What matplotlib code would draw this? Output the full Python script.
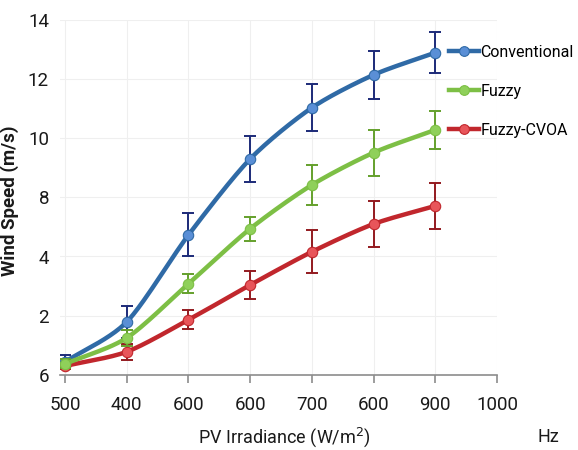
import numpy as np
import matplotlib
matplotlib.use('Agg')
import matplotlib.pyplot as plt

plt.rcParams['font.family'] = ['Roboto', 'DejaVu Sans']

# tick labels as printed on the chart (positions are evenly spaced)
x_labels = ['500', '400', '600', '600', '700', '600', '900', '1000']
y_labels = ['6', '2', '4', '8', '10', '12', '14']
y_ticks = [2, 4, 6, 8, 10, 12, 14]

x_pos = [0, 1, 2, 3, 4, 5, 6]

conv = [2.44, 3.79, 6.73, 9.30, 11.03, 12.14, 12.89]
conv_err = [0.22, 0.55, 0.73, 0.78, 0.79, 0.81, 0.70]
fuzzy = [2.37, 3.25, 5.08, 6.94, 8.42, 9.51, 10.28]
fuzzy_err = [0.15, 0.26, 0.32, 0.41, 0.68, 0.78, 0.64]
cvoa = [2.30, 2.78, 3.86, 5.04, 6.16, 7.10, 7.71]
cvoa_err = [0.10, 0.27, 0.32, 0.47, 0.73, 0.78, 0.78]


def smooth(x, y, n=25, tension=0.4):
    # cardinal spline through the points
    x = np.asarray(x, float)
    y = np.asarray(y, float)
    px = np.concatenate([[2*x[0]-x[1]], x, [2*x[-1]-x[-2]]])
    py = np.concatenate([[2*y[0]-y[1]], y, [2*y[-1]-y[-2]]])
    xs, ys = [], []
    t = np.linspace(0, 1, n)
    h00 = 2*t**3 - 3*t**2 + 1
    h10 = t**3 - 2*t**2 + t
    h01 = -2*t**3 + 3*t**2
    h11 = t**3 - t**2
    for i in range(1, len(px)-2):
        for p, out in ((px, xs), (py, ys)):
            m1 = tension*(p[i+1]-p[i-1])
            m2 = tension*(p[i+2]-p[i])
            out.extend(h00*p[i] + h10*m1 + h01*p[i+1] + h11*m2)
    return np.array(xs), np.array(ys)


fig = plt.figure(figsize=(5.78, 4.5), dpi=100)
ax = fig.add_axes([0.104, 0.167, 0.756, 0.789])

series = [
    ('Conventional', conv, conv_err, '#2f6aa6', '#5a8fd6', '#1c2a78', 3),
    ('Fuzzy', fuzzy, fuzzy_err, '#7dbf45', '#8fd05a', '#64a02c', 4),
    ('Fuzzy-CVOA', cvoa, cvoa_err, '#c1272d', '#e8555a', '#931a1f', 2),
]

handles = []
for name, vals, err, lc, mc, ec, z in series:
    sx, sy = smooth(x_pos, vals)
    ax.plot(sx, sy, color=lc, lw=3.2, solid_capstyle='round', zorder=z)
    ax.errorbar(x_pos, vals, yerr=err, fmt='none', ecolor=ec, elinewidth=1.4,
                capsize=4, capthick=1.4, zorder=z+0.1)
    ax.plot(x_pos, vals, 'o', ms=7.5, color=mc, mec=lc, mew=0.8, zorder=z+0.2)
    h, = ax.plot([], [], color=lc, lw=3.2, marker='o', ms=7, mfc=mc, mec=lc, mew=0.8)
    handles.append((h, name))

ax.set_xlim(-0.08, 7)
ax.set_ylim(2, 14)
ax.set_xticks(range(len(x_labels)))
ax.set_xticklabels(x_labels)
ax.set_yticks(y_ticks)
ax.set_yticklabels(y_labels)

for s in ['top', 'right', 'left']:
    ax.spines[s].set_visible(False)
ax.spines['bottom'].set_color('#8c8c8c')
ax.spines['bottom'].set_linewidth(1.2)
ax.tick_params(axis='x', direction='out', length=6, width=1.2, color='#8c8c8c',
               labelsize=13.5, labelcolor='#1a1a1a', pad=9)
ax.tick_params(axis='y', length=0, labelsize=13.5, labelcolor='#1a1a1a', pad=8)
ax.grid(True, color='#efefef', lw=0.8, zorder=0)
ax.set_axisbelow(True)

ax.set_ylabel('Wind Speed (m/s)', fontsize=13.5, fontweight='bold', color='#1a1a1a')
ax.yaxis.set_label_coords(-0.095, 0.49)
fig.text(0.492, 0.029, 'PV Irradiance (W/m$^2$)', fontsize=13, color='#1a1a1a', ha='center', va='center')
fig.text(0.948, 0.029, 'Hz', fontsize=13, color='#1a1a1a', ha='center', va='center')

fig.legend([h for h, _ in handles], [n for _, n in handles], loc='upper left',
           bbox_to_anchor=(0.766, 0.915), frameon=False, fontsize=11.5,
           handlelength=1.9, handletextpad=0.05, labelspacing=1.5, borderaxespad=0)

fig.savefig('out.png', dpi=100)
